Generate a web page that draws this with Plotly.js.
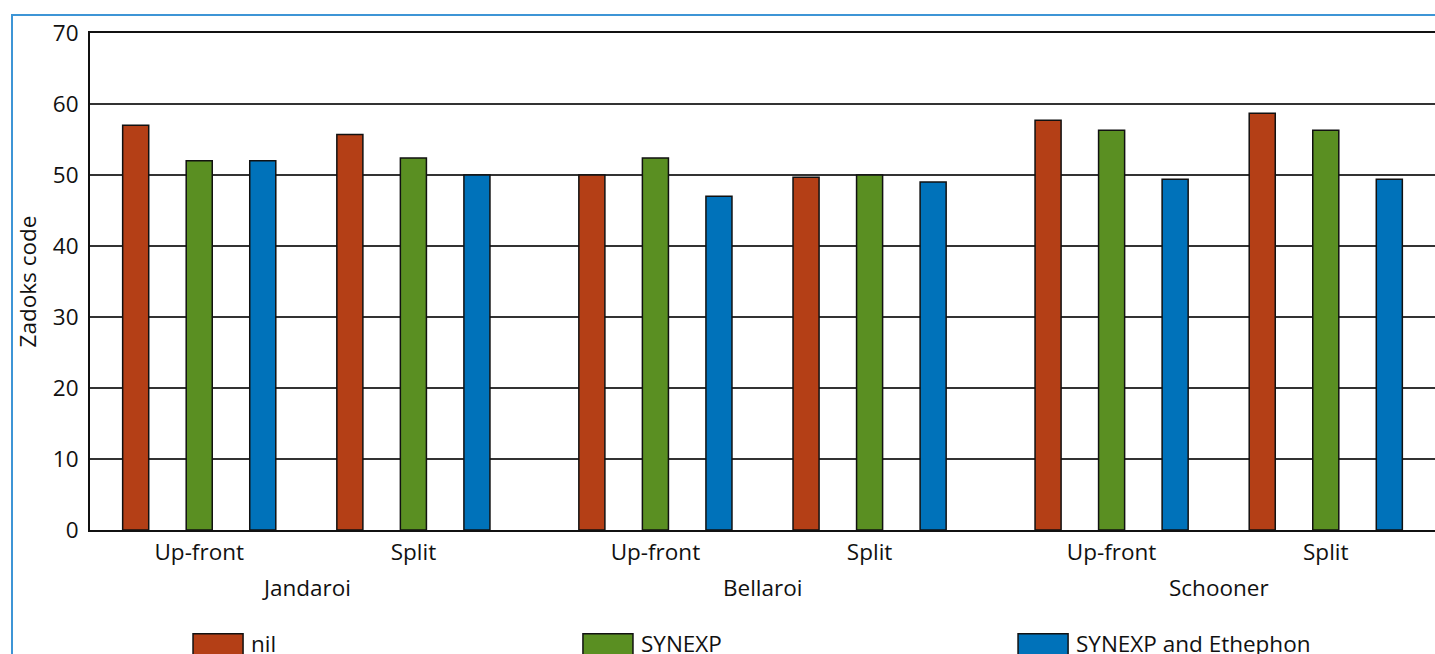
<!DOCTYPE html>
<html>
<head>
<meta charset="utf-8">
<script src="https://cdn.plot.ly/plotly-3.0.1.min.js"></script>
<style>
html,body{margin:0;padding:0;background:#fff;}
#wrap{position:relative;width:1435px;height:654px;overflow:hidden;}
#chart{width:1435px;height:654px;}
#frame{position:absolute;left:11px;top:14px;width:1500px;height:700px;border-left:2px solid #3d95d6;border-top:2px solid #3d95d6;pointer-events:none;}
</style>
</head>
<body>
<div id="wrap"><div id="chart"></div><div id="frame"></div></div>
<script>
const varieties = ['Jandaroi', 'Bellaroi', 'Schooner'];
const timings = ['Up-front', 'Split'];
const seriesNames = ['nil', 'SYNEXP', 'SYNEXP and Ethephon'];
const nilValues = [57.0, 55.7, 50.0, 49.7, 57.7, 58.7];
const synexpValues = [52.0, 52.4, 52.4, 50.0, 56.3, 56.3];
const synexpEthValues = [52.0, 50.0, 47.0, 49.0, 49.4, 49.4];
const colors = ['#b43f16', '#5a8f22', '#0072ba'];

const groupStep = 2.13;
const xs = [], tickText = [];
varieties.forEach((v, g) => timings.forEach((t, k) => { xs.push(g * groupStep + k); tickText.push(t); }));

const allValues = [nilValues, synexpValues, synexpEthValues];
const traces = allValues.map((vals, i) => ({
  type: 'bar', x: xs, y: vals, name: seriesNames[i],
  marker: {color: colors[i], line: {color: '#111', width: 1.5}},
  showlegend: false, hoverinfo: 'y'
}));

const fontFam = 'Open Sans, Noto Sans, sans-serif';
const annotations = varieties.map((v, g) => ({
  x: g * groupStep + 0.5, y: 0, xref: 'x', yref: 'paper', yanchor: 'top',
  yshift: -40, text: v, showarrow: false, font: {size: 22.5, color: '#111', family: fontFam}
}));
const shapes = [];
const legX = [0.0766, 0.3665, 0.690];
seriesNames.forEach((n, i) => {
  shapes.push({type: 'rect', xref: 'paper', yref: 'paper', x0: legX[i], x1: legX[i] + 0.0372,
    y0: -0.209, y1: -0.27, fillcolor: colors[i], line: {color: '#111', width: 1.5}});
  annotations.push({x: legX[i] + 0.0372, y: -0.209, xref: 'paper', yref: 'paper', xanchor: 'left', yanchor: 'top',
    xshift: 6, yshift: 8, text: n, showarrow: false, font: {size: 22.5, color: '#111', family: fontFam}});
});

const layout = {
  width: 1435, height: 654,
  margin: {l: 90, r: 0, t: 33, b: 124},
  paper_bgcolor: '#fff', plot_bgcolor: '#fff',
  barmode: 'group', bargap: 0.11, bargroupgap: 0.59,
  font: {family: fontFam, size: 22.5, color: '#111'},
  xaxis: {range: [-0.51, 2 * groupStep + 1 + 0.51], tickmode: 'array', tickvals: xs, ticktext: tickText,
    showgrid: false, zeroline: false, showline: true, mirror: true, linecolor: '#111', linewidth: 2,
    ticks: 'outside', ticklen: 1, tickcolor: 'rgba(0,0,0,0)', tickfont: {size: 22.5, color: '#111'}},
  yaxis: {range: [0, 70], dtick: 10, tick0: 0, showgrid: true, gridcolor: '#333', gridwidth: 1.3,
    zeroline: false, showline: true, linecolor: '#111', linewidth: 2,
    ticks: 'outside', ticklen: 5, tickcolor: 'rgba(0,0,0,0)', tickfont: {size: 22.5, color: '#111'},
    title: {text: 'Zadoks code', font: {size: 22.5, color: '#111'}, standoff: 10}},
  annotations: annotations, shapes: shapes
};
Plotly.newPlot('chart', traces, layout, {displayModeBar: false, staticPlot: true});
</script>
</body>
</html>
